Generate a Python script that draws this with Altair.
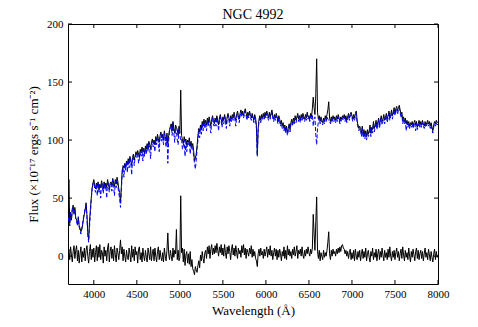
import altair as alt
import pandas as pd

# Sampling grid of the spectrum (Angstrom)
wave_start = 3700
wave_step = 10

# Observed spectrum (black, upper)
obs = [
    2, 66, 28, 36, 31, 40, 44, 37, 42, 33,
    31, 28, 33, 26, 24, 21, 23, 27, 32, 36,
    40, 46, 36, 20, 14, 30, 40, 50, 58, 63,
    66, 61, 58, 63, 60, 64, 57, 62, 59, 65,
    61, 58, 64, 60, 63, 59, 66, 62, 58, 63,
    64, 61, 67, 63, 60, 66, 62, 68, 64, 58,
    55, 46, 60, 74, 78, 76, 80, 77, 82, 79,
    84, 80, 86, 82, 78, 85, 88, 83, 86, 90,
    87, 91, 88, 85, 92, 89, 94, 90, 93, 88,
    95, 92, 97, 93, 99, 96, 92, 98, 101, 97,
    100, 96, 103, 99, 105, 101, 98, 104, 107, 102,
    105, 100, 108, 103, 99, 106, 97, 104, 109, 112,
    114, 108, 116, 110, 106, 113, 111, 109, 104, 112,
    106, 143, 104, 100, 97, 103, 99, 101, 96, 100,
    98, 102, 95, 99, 94, 97, 91, 82, 84, 88,
    95, 104, 110, 107, 113, 109, 116, 112, 118, 114,
    117, 113, 119, 115, 120, 116, 112, 118, 121, 117,
    114, 119, 116, 121, 117, 113, 119, 122, 118, 115,
    120, 117, 122, 118, 114, 120, 123, 119, 116, 121,
    118, 122, 119, 124, 120, 117, 122, 125, 121, 118,
    123, 126, 122, 125, 121, 124, 127, 123, 120, 124,
    121, 125, 122, 119, 123, 120, 117, 122, 119, 112,
    87, 110, 118, 121, 117, 122, 119, 123, 120, 124,
    121, 125, 122, 119, 124, 120, 123, 126, 121, 118,
    122, 119, 123, 120, 116, 121, 118, 114, 117, 112,
    115, 110, 113, 108, 112, 106, 110, 114, 109, 115,
    118, 114, 119, 116, 121, 117, 120, 123, 118, 121,
    117, 122, 119, 123, 120, 118, 122, 119, 124, 120,
    121, 118, 123, 120, 127, 137, 128, 122, 140, 170,
    124, 118, 121, 116, 120, 117, 115, 119, 116, 121,
    118, 122, 126, 133, 119, 116, 120, 117, 121, 118,
    120, 117, 121, 118, 122, 119, 116, 120, 118, 121,
    119, 122, 118, 121, 117, 120, 123, 119, 122, 124,
    121, 118, 122, 119, 123, 125, 117, 113, 110, 112,
    110, 106, 112, 105, 109, 104, 108, 103, 109, 105,
    108, 113, 106, 111, 109, 116, 110, 113, 117, 112,
    115, 119, 113, 117, 121, 116, 118, 122, 117, 120,
    123, 118, 121, 125, 120, 122, 126, 121, 124, 128,
    123, 127, 129, 125, 128, 130, 126, 122, 124, 117,
    120, 116, 119, 114, 117, 113, 116, 112, 115, 113,
    116, 112, 115, 117, 113, 116, 111, 114, 117, 113,
    116, 113, 117, 114, 112, 116, 113, 115, 117, 114,
    116, 112, 115, 111, 108, 113, 116, 114, 117, 115,
    116,
]

# Stellar model fit (blue, dashed)
model = [
    30, 34, 26, 38, 32, 41, 43, 36, 40, 32,
    30, 26, 34, 25, 22, 19, 24, 28, 34, 37,
    42, 44, 34, 18, 12, 25, 36, 48, 58, 62,
    64, 58, 55, 62, 52, 63, 55, 60, 50, 64,
    59, 54, 63, 57, 61, 50, 65, 60, 55, 62,
    62, 56, 66, 60, 52, 64, 59, 66, 60, 54,
    50, 42, 56, 72, 76, 68, 79, 74, 81, 72,
    83, 76, 85, 80, 70, 84, 86, 78, 85, 88,
    85, 89, 80, 84, 90, 86, 92, 82, 92, 86,
    93, 88, 96, 90, 97, 92, 84, 97, 99, 94,
    98, 90, 102, 96, 103, 98, 90, 102, 105, 99,
    103, 96, 106, 100, 94, 104, 80, 100, 107, 110,
    112, 104, 115, 106, 98, 111, 107, 100, 96, 110,
    104, 100, 101, 92, 95, 100, 86, 99, 90, 98,
    96, 99, 88, 97, 92, 94, 86, 80, 75, 82,
    92, 100, 108, 102, 111, 105, 114, 108, 116, 110,
    115, 108, 117, 112, 118, 112, 106, 116, 119, 113,
    112, 117, 112, 119, 115, 108, 117, 120, 116, 111,
    118, 114, 120, 116, 110, 118, 121, 117, 112, 119,
    116, 120, 117, 122, 118, 112, 120, 123, 119, 115,
    121, 124, 120, 123, 119, 122, 125, 121, 117, 122,
    119, 123, 120, 117, 121, 118, 115, 120, 117, 110,
    86, 108, 116, 119, 115, 120, 117, 121, 118, 122,
    119, 123, 120, 117, 122, 118, 121, 124, 119, 116,
    120, 117, 121, 118, 114, 119, 116, 112, 115, 110,
    113, 108, 111, 106, 110, 104, 108, 112, 107, 113,
    116, 112, 117, 114, 119, 115, 118, 121, 116, 119,
    115, 120, 117, 121, 118, 116, 120, 117, 122, 118,
    120, 116, 121, 118, 122, 112, 118, 120, 104, 96,
    110, 116, 119, 114, 118, 115, 113, 117, 114, 119,
    116, 120, 118, 117, 117, 114, 118, 115, 119, 116,
    118, 115, 119, 116, 120, 117, 114, 118, 116, 119,
    117, 120, 116, 119, 115, 118, 121, 117, 120, 122,
    119, 116, 120, 117, 121, 123, 115, 111, 108, 110,
    108, 103, 110, 102, 107, 101, 106, 100, 107, 103,
    105, 111, 103, 109, 106, 114, 107, 111, 115, 109,
    113, 117, 110, 115, 119, 113, 116, 120, 114, 118,
    121, 115, 119, 123, 117, 120, 124, 118, 122, 126,
    121, 125, 127, 122, 126, 128, 124, 119, 122, 114,
    118, 114, 117, 108, 115, 111, 114, 110, 113, 111,
    114, 110, 113, 115, 108, 114, 109, 112, 115, 111,
    114, 111, 115, 112, 110, 114, 111, 113, 115, 112,
    114, 110, 113, 109, 106, 111, 114, 112, 115, 113,
    114,
]

# Residual (observed - model), black, lower
resid = [
    0, 6, -3, 8, 1, -5, 4, 9, -2, 5,
    9, -4, 5, -6, 2, 8, -5, 4, -1, 7,
    -4, 5, 9, 0, -6, 4, 10, -3, 6, -1,
    7, -5, 3, 9, -4, 8, -1, 10, -3, 5,
    3, -6, 8, 0, 5, -4, 7, 11, -5, 4,
    8, -2, 6, -4, 9, 1, -5, 7, 3, -3,
    5, 14, 2, 8, -4, 6, 0, -5, 5, -1,
    -3, 7, 2, -5, 9, -1, 6, -4, 8, 1,
    4, -6, 6, 8, -3, 3, -5, 7, 0, -4,
    5, -1, -5, 7, 2, -3, 8, -4, 2, 6,
    -4, 7, 0, -5, 4, 8, -3, 5, -1, -4,
    3, -5, 7, 0, -4, 5, 20, 2, -3, 5,
    0, -4, 7, -1, 5, 2, 23, -3, 5, -4,
    -1, 52, 3, 7, -5, 6, -8, 1, 4, -6,
    2, -7, 4, -9, -3, -11, -13, -16, -9, -12,
    -14, -8, -4, -10, 1, -4, 4, -2, -6, 3,
    5, -2, 8, 2, 9, -2, 6, 10, 1, 7,
    2, 9, 3, 11, 5, 0, 8, 3, 10, 1,
    7, 0, 10, 3, -2, 8, 2, 9, 4, -3,
    6, 10, 1, 7, 0, 9, 3, -2, 7, 2,
    5, -1, 9, 3, 10, 1, 7, -2, 6, 3,
    0, 7, 2, 9, -1, 6, 0, 4, -2, -4,
    -9, 2, 6, 0, 7, 1, 4, -2, 6, 0,
    4, 8, -1, 6, 1, 9, 0, 5, -3, 3,
    7, 0, 6, -3, 5, -1, 6, 2, -4, 4,
    0, 8, -2, 5, -3, 9, 1, 6, 0, 4,
    -2, 6, 1, 8, 0, 4, 9, -2, 5, 2,
    6, 0, 8, 1, -2, 5, 0, 6, 2, 8,
    3, 0, 6, 2, 7, 36, 20, 5, 30, 51,
    4, -2, 5, -4, 3, 0, -3, 5, -1, 3,
    0, 5, 12, 21, 2, -3, 5, 0, 6, 2,
    4, 0, 6, 2, 7, 3, 8, 4, 9, 10,
    7, 6, 2, 5, 0, 4, -2, 3, 6, -3,
    3, -2, 5, -4, 6, 0, -3, 4, -1, 5,
    -4, 2, 6, -2, 4, -1, 7, -4, 2, 5,
    -1, -5, 4, 0, 7, -3, 3, -1, 6, -4,
    2, 6, -3, 4, -1, 7, 1, -4, 5, -1,
    3, -3, 6, -1, 8, 0, -4, 4, -1, 5,
    -3, 3, 7, -1, 4, -4, 2, 6, -2, 8,
    1, -4, 5, -1, 3, -3, 7, 0, -5, 4,
    -1, 6, 1, -4, 4, 7, -2, 5, -3, 2,
    5, -2, 4, -4, 2, 7, -1, 3, -3, 6,
    1, -4, 4, -1, -5, 2, 6, -3, 4, -1,
    1,
]

x_ticks = [4000, 4500, 5000, 5500, 6000, 6500, 7000, 7500, 8000]
y_ticks = [0, 50, 100, 150, 200]

W, H = 370, 260
FONT = "Liberation Serif"

wavelength = [wave_start + wave_step * i for i in range(len(obs))]
df_obs = pd.DataFrame({"wl": wavelength, "flux": obs})
df_model = pd.DataFrame({"wl": wavelength, "flux": model})
df_res = pd.DataFrame({"wl": wavelength, "flux": resid})
df_xt = pd.DataFrame({"wl": x_ticks})
df_yt = pd.DataFrame({"flux": y_ticks})

xscale = alt.Scale(domain=[3700, 8000], nice=False, zero=False)
yscale = alt.Scale(domain=[-24, 200], nice=False, zero=False)

xaxis = alt.Axis(values=x_ticks, title="Wavelength (Å)", format="d",
                 ticks=False, domain=False, grid=False, labelPadding=4,
                 titlePadding=5, labelFlush=False)
yaxis = alt.Axis(values=y_ticks, title="Flux (×10⁻¹⁷ ergs s⁻¹ cm⁻²)",
                 ticks=False, domain=False, grid=False, labelPadding=5,
                 titlePadding=6, labelFlush=False)

X = alt.X("wl:Q", scale=xscale, axis=xaxis)
Y = alt.Y("flux:Q", scale=yscale, axis=yaxis)

obs_line = alt.Chart(df_obs).mark_line(color="black", strokeWidth=1, clip=True).encode(x=X, y=Y)
res_line = alt.Chart(df_res).mark_line(color="black", strokeWidth=1, clip=True).encode(x=X, y=Y)
mod_line = alt.Chart(df_model).mark_line(color="#0000ff", strokeWidth=1, strokeDash=[4, 2], clip=True).encode(x=X, y=Y)

tick_bottom = alt.Chart(df_xt).mark_rule(color="black", strokeWidth=1).encode(x=X, y=alt.value(H - 4), y2=alt.value(H))
tick_top = alt.Chart(df_xt).mark_rule(color="black", strokeWidth=1).encode(x=X, y=alt.value(0), y2=alt.value(4))
tick_left = alt.Chart(df_yt).mark_rule(color="black", strokeWidth=1).encode(y=Y, x=alt.value(0), x2=alt.value(4))
tick_right = alt.Chart(df_yt).mark_rule(color="black", strokeWidth=1).encode(y=Y, x=alt.value(W - 4), x2=alt.value(W))

chart = alt.layer(obs_line, res_line, mod_line, tick_bottom, tick_top, tick_left, tick_right).properties(
    width=W, height=H,
    title=alt.TitleParams("NGC 4992", font=FONT, fontSize=14, fontWeight="normal", color="black", offset=-4),
    autosize=alt.AutoSizeParams(type="none"),
    padding={"left": 60, "top": 16, "right": 32, "bottom": 35},
).configure_view(stroke="black", strokeWidth=1).configure_axis(
    labelFont=FONT, titleFont=FONT, labelFontSize=11, titleFontSize=13,
    labelColor="black", titleColor="black", titleFontWeight="normal",
)

chart.save("out.html", embed_options={"renderer": "svg", "actions": False})
